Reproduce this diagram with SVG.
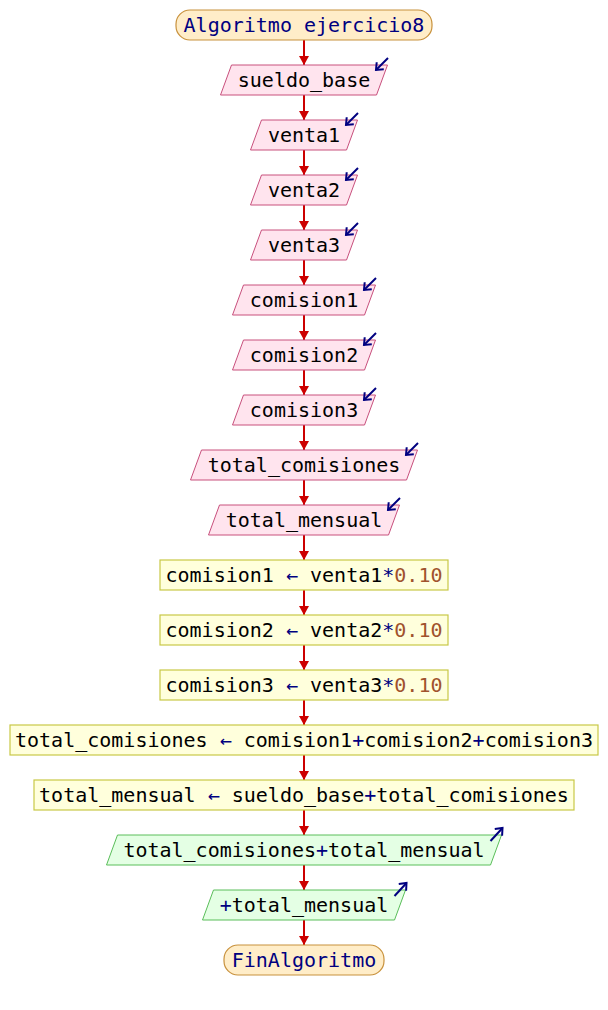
<svg xmlns="http://www.w3.org/2000/svg" width="608" height="1010" viewBox="0 0 608 1010">
<style>
text{font-family:"DejaVu Sans Mono","Liberation Mono",monospace;font-size:20px;text-anchor:middle;fill:#000}
.term{fill:#FFEDC8;stroke:#C8913C;stroke-width:1.2}
.termt{fill:#000080}
.in{fill:#FFE4EE;stroke:#C8507D;stroke-width:1}
.proc{fill:#FFFFDC;stroke:#C8C846;stroke-width:1.2}
.out{fill:#E4FFE4;stroke:#5ABE5A;stroke-width:1}
.op{fill:#000080}
.num{fill:#A0522D}
.con line{stroke:#CC0000;stroke-width:2;marker-end:url(#ah)}
.io{stroke:#000080;stroke-width:2;fill:none;marker-end:url(#sh)}
</style>
<defs>
<marker id="ah" markerUnits="userSpaceOnUse" markerWidth="10" markerHeight="10" refX="9" refY="5" orient="auto"><path d="M0,0 L9,5 L0,10 z" fill="#CC0000"/></marker>
<marker id="sh" markerUnits="userSpaceOnUse" markerWidth="10" markerHeight="12" refX="7" refY="6" orient="auto"><path d="M1,1 L7,6 L1,11" fill="none" stroke="#000080" stroke-width="2"/></marker>
</defs>
<g class="con">
<line x1="304" y1="40" x2="304" y2="65"/>
<line x1="304" y1="95" x2="304" y2="120"/>
<line x1="304" y1="150" x2="304" y2="175"/>
<line x1="304" y1="205" x2="304" y2="230"/>
<line x1="304" y1="260" x2="304" y2="285"/>
<line x1="304" y1="315" x2="304" y2="340"/>
<line x1="304" y1="370" x2="304" y2="395"/>
<line x1="304" y1="425" x2="304" y2="450"/>
<line x1="304" y1="480" x2="304" y2="505"/>
<line x1="304" y1="535" x2="304" y2="560"/>
<line x1="304" y1="590" x2="304" y2="615"/>
<line x1="304" y1="645" x2="304" y2="670"/>
<line x1="304" y1="700" x2="304" y2="725"/>
<line x1="304" y1="755" x2="304" y2="780"/>
<line x1="304" y1="810" x2="304" y2="835"/>
<line x1="304" y1="865" x2="304" y2="890"/>
<line x1="304" y1="920" x2="304" y2="945"/>
</g>
<g id="start"><rect class="term" x="176" y="10" width="256" height="30" rx="14"/><text class="termt" x="304" y="32">Algoritmo ejercicio8</text></g>
<g id="in1"><polygon class="in" points="231.5,65 387.5,65 376.5,95 220.5,95"/><text x="304" y="87">sueldo_base</text><line class="io" x1="388" y1="58" x2="376" y2="70"/></g>
<g id="in2"><polygon class="in" points="261.5,120 357.5,120 346.5,150 250.5,150"/><text x="304" y="142">venta1</text><line class="io" x1="358" y1="113" x2="346" y2="125"/></g>
<g id="in3"><polygon class="in" points="261.5,175 357.5,175 346.5,205 250.5,205"/><text x="304" y="197">venta2</text><line class="io" x1="358" y1="168" x2="346" y2="180"/></g>
<g id="in4"><polygon class="in" points="261.5,230 357.5,230 346.5,260 250.5,260"/><text x="304" y="252">venta3</text><line class="io" x1="358" y1="223" x2="346" y2="235"/></g>
<g id="in5"><polygon class="in" points="243.5,285 375.5,285 364.5,315 232.5,315"/><text x="304" y="307">comision1</text><line class="io" x1="376" y1="278" x2="364" y2="290"/></g>
<g id="in6"><polygon class="in" points="243.5,340 375.5,340 364.5,370 232.5,370"/><text x="304" y="362">comision2</text><line class="io" x1="376" y1="333" x2="364" y2="345"/></g>
<g id="in7"><polygon class="in" points="243.5,395 375.5,395 364.5,425 232.5,425"/><text x="304" y="417">comision3</text><line class="io" x1="376" y1="388" x2="364" y2="400"/></g>
<g id="in8"><polygon class="in" points="201.5,450 417.5,450 406.5,480 190.5,480"/><text x="304" y="472">total_comisiones</text><line class="io" x1="418" y1="443" x2="406" y2="455"/></g>
<g id="in9"><polygon class="in" points="219.5,505 399.5,505 388.5,535 208.5,535"/><text x="304" y="527">total_mensual</text><line class="io" x1="400" y1="498" x2="388" y2="510"/></g>
<g id="p1"><rect class="proc" x="160" y="560" width="288" height="30"/><text x="304" y="582">comision1 <tspan class="op">←</tspan> venta1<tspan class="op">*</tspan><tspan class="num">0.10</tspan></text></g>
<g id="p2"><rect class="proc" x="160" y="615" width="288" height="30"/><text x="304" y="637">comision2 <tspan class="op">←</tspan> venta2<tspan class="op">*</tspan><tspan class="num">0.10</tspan></text></g>
<g id="p3"><rect class="proc" x="160" y="670" width="288" height="30"/><text x="304" y="692">comision3 <tspan class="op">←</tspan> venta3<tspan class="op">*</tspan><tspan class="num">0.10</tspan></text></g>
<g id="p4"><rect class="proc" x="10" y="725" width="588" height="30"/><text x="304" y="747">total_comisiones <tspan class="op">←</tspan> comision1<tspan class="op">+</tspan>comision2<tspan class="op">+</tspan>comision3</text></g>
<g id="p5"><rect class="proc" x="34" y="780" width="540" height="30"/><text x="304" y="802">total_mensual <tspan class="op">←</tspan> sueldo_base<tspan class="op">+</tspan>total_comisiones</text></g>
<g id="o1"><polygon class="out" points="117.5,835 501.5,835 490.5,865 106.5,865"/><text x="304" y="857">total_comisiones<tspan class="op">+</tspan>total_mensual</text><line class="io" x1="490.5" y1="841" x2="502.5" y2="828"/></g>
<g id="o2"><polygon class="out" points="213.5,890 405.5,890 394.5,920 202.5,920"/><text x="304" y="912"><tspan class="op">+</tspan>total_mensual</text><line class="io" x1="394.5" y1="896" x2="406.5" y2="883"/></g>
<g id="end"><rect class="term" x="224" y="945" width="160" height="30" rx="14"/><text class="termt" x="304" y="967">FinAlgoritmo</text></g>
</svg>
